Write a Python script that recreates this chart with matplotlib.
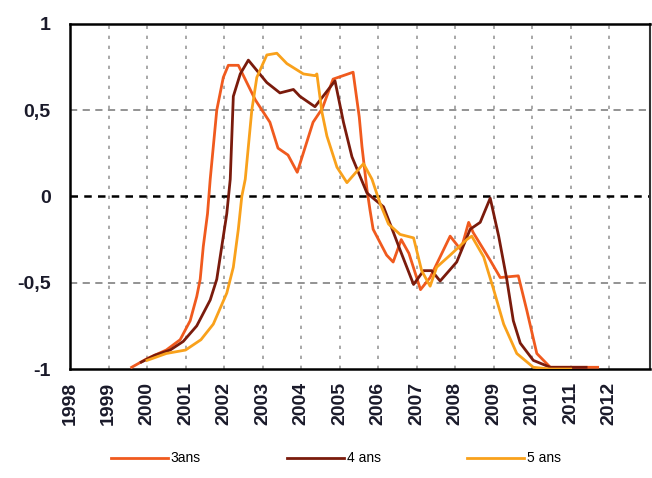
import matplotlib
matplotlib.use("Agg")
from matplotlib import pyplot as plt

plt.rcParams['font.family'] = ['Liberation Sans', 'DejaVu Sans']

# values (fractional year, value)
x_3ans = [1999.6, 2000.0, 2000.5, 2000.86, 2001.12, 2001.29, 2001.38, 2001.46, 2001.57, 2001.64,
          2001.81, 2001.98, 2002.11, 2002.37, 2002.81, 2003.19, 2003.40, 2003.66, 2003.90, 2004.31,
          2004.55, 2004.83, 2005.35, 2005.51, 2005.58, 2005.71, 2005.79, 2005.87, 2006.22, 2006.39,
          2006.6, 2006.8, 2007.1, 2007.35, 2007.87, 2008.15, 2008.35, 2008.47, 2008.91, 2009.17,
          2009.64, 2009.86, 2010.12, 2010.47, 2011.0, 2011.7]
y_3ans = [-0.99, -0.94, -0.89, -0.83, -0.72, -0.58, -0.48, -0.29, -0.10, 0.10,
          0.50, 0.69, 0.76, 0.76, 0.56, 0.43, 0.28, 0.24, 0.14, 0.43,
          0.51, 0.68, 0.72, 0.46, 0.29, 0.04, -0.08, -0.19, -0.34, -0.38,
          -0.25, -0.33, -0.54, -0.47, -0.23, -0.31, -0.15, -0.21, -0.37, -0.47,
          -0.46, -0.66, -0.91, -0.99, -0.99, -0.99]

x_4ans = [1999.85, 2000.2, 2000.6, 2000.94, 2001.29, 2001.64, 2001.81, 2001.94, 2002.07, 2002.16,
          2002.24, 2002.42, 2002.63, 2003.11, 2003.45, 2003.80, 2003.97, 2004.36, 2004.88, 2005.10,
          2005.32, 2005.71, 2006.14, 2006.40, 2006.57, 2006.92, 2007.18, 2007.39, 2007.61, 2008.04,
          2008.39, 2008.65, 2008.91, 2009.13, 2009.34, 2009.51, 2009.69, 2010.03, 2010.47, 2011.0,
          2011.4]
y_4ans = [-0.96, -0.92, -0.89, -0.84, -0.75, -0.60, -0.48, -0.29, -0.10, 0.10,
          0.58, 0.71, 0.79, 0.66, 0.60, 0.62, 0.58, 0.52, 0.67, 0.43,
          0.23, 0.02, -0.06, -0.21, -0.31, -0.51, -0.43, -0.43, -0.49, -0.38,
          -0.19, -0.15, -0.01, -0.23, -0.48, -0.72, -0.85, -0.95, -0.99, -0.99,
          -0.99]

x_5ans = [2000.0, 2000.5, 2001.0, 2001.40, 2001.72, 2002.07, 2002.24, 2002.37, 2002.46, 2002.55,
          2002.72, 2002.85, 2003.11, 2003.37, 2003.63, 2004.06, 2004.36, 2004.41, 2004.54, 2004.67,
          2004.93, 2005.19, 2005.62, 2005.84, 2006.05, 2006.27, 2006.57, 2006.92, 2007.13, 2007.35,
          2007.52, 2007.87, 2008.30, 2008.43, 2008.74, 2009.0, 2009.26, 2009.60, 2010.03, 2010.47,
          2011.0]
y_5ans = [-0.95, -0.91, -0.89, -0.83, -0.74, -0.56, -0.41, -0.19, 0.0, 0.10,
          0.50, 0.69, 0.82, 0.83, 0.77, 0.71, 0.70, 0.71, 0.49, 0.35,
          0.17, 0.08, 0.19, 0.10, -0.04, -0.16, -0.22, -0.24, -0.43, -0.52,
          -0.41, -0.34, -0.25, -0.23, -0.35, -0.54, -0.74, -0.91, -0.99, -1.0,
          -1.0]

years = list(range(1998, 2013))
y_ticks = [1, 0.5, 0, -0.5, -1]
y_labels = ['1', '0,5', '0', '-0,5', '-1']

fig = plt.figure(figsize=(6.52, 4.78), dpi=100)
ax = fig.add_axes([0.1074, 0.228, 0.889, 0.722])

for yr in years[1:]:
    ax.axvline(yr, color='#9a9a9a', lw=1.2, ls=(0, (2, 4)), zorder=1)
for yv in [0.5, -0.5]:
    ax.axhline(yv, color='#8a8a8a', lw=1.3, ls=(0, (4, 3)), zorder=1)
ax.axhline(0, color='black', lw=1.8, ls=(0, (3, 2.5)), zorder=1)

ax.plot(x_3ans, y_3ans, color='#F05A1E', lw=2.0, label='3ans', zorder=3)
ax.plot(x_4ans, y_4ans, color='#7A1B0C', lw=2.0, label='4 ans', zorder=3)
ax.plot(x_5ans, y_5ans, color='#F9A11B', lw=2.0, label='5 ans', zorder=3)

ax.set_xlim(1998, 2013.05)
ax.set_ylim(-1, 1)
ax.set_xticks(years)
ax.set_xticklabels([str(y) for y in years], rotation=90, fontsize=14, fontweight='bold', color='#1a1a2a')
ax.set_yticks(y_ticks)
ax.set_yticklabels(y_labels, fontsize=14, fontweight='bold', color='#1a1a2a')
ax.tick_params(axis='both', length=0)
ax.tick_params(axis='y', pad=14)
ax.tick_params(axis='x', pad=9)
for side in ['left', 'bottom', 'top']:
    ax.spines[side].set_linewidth(1.8)
    ax.spines[side].set_color('black')
ax.spines['right'].set_linewidth(1.5)
ax.spines['right'].set_color('#333333')

fig.legend(loc='lower center', bbox_to_anchor=(0.515, 0.0), ncol=3, frameon=False,
           fontsize=10, handlelength=4.1, columnspacing=6.2, handletextpad=0.2)

fig.savefig('out.png', dpi=100)
